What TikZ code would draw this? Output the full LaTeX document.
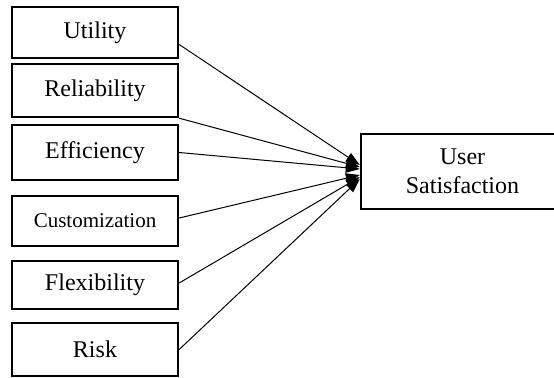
\documentclass[tikz,border=0pt]{standalone}
\usepackage{fontspec}
\setmainfont{Liberation Serif}
\usetikzlibrary{arrows.meta}

\begin{document}
\begin{tikzpicture}[x=0.5pt, y=-0.5pt,
    factor/.style={draw, line width=1.2pt, minimum width=83pt, inner sep=0pt,
        font=\fontsize{12}{14.5}\selectfont},
    link/.style={line width=0.5pt, -{Triangle[length=7pt, width=5pt]}}]
    \useasboundingbox (0,0) rectangle (554,377);
    \clip (0,0) rectangle (554,377);

    % Kotak faktor (kiri)
    \node[factor, minimum height=25.5pt] (util) at (95,32.5) {Utility};
    \node[factor, minimum height=26.5pt] (rel) at (95,90.5) {Reliability};
    \node[factor, minimum height=27.5pt] (eff) at (95,152.5) {Efficiency};
    \node[factor, minimum height=25pt, font=\fontsize{10.5}{12.5}\selectfont] (cust) at (95,221) {Customization};
    \node[factor, minimum height=24pt] (flex) at (95,285) {Flexibility};
    \node[factor, minimum height=26.5pt] (risk) at (95,349.5) {Risk};

    % Kotak tujuan
    \node[factor, minimum width=101.5pt, minimum height=37.5pt, align=center] (sat) at (462.5,171.5) {User\\Satisfaction};

    % Panah ke User Satisfaction
    \draw[link] ([yshift=-6pt]util.east) -- ([yshift=3.25pt]sat.west);
    \draw[link] (rel.south east) -- ([yshift=2.25pt]sat.west);
    \draw[link] (eff.east) -- ([yshift=1.25pt]sat.west);
    \draw[link] ([yshift=1.5pt]cust.east) -- ([yshift=-1.75pt]sat.west);
    \draw[link] ([yshift=1pt]flex.east) -- ([yshift=-2.75pt]sat.west);
    \draw[link] (risk.east) -- ([yshift=-3.75pt]sat.west);
\end{tikzpicture}
\end{document}
